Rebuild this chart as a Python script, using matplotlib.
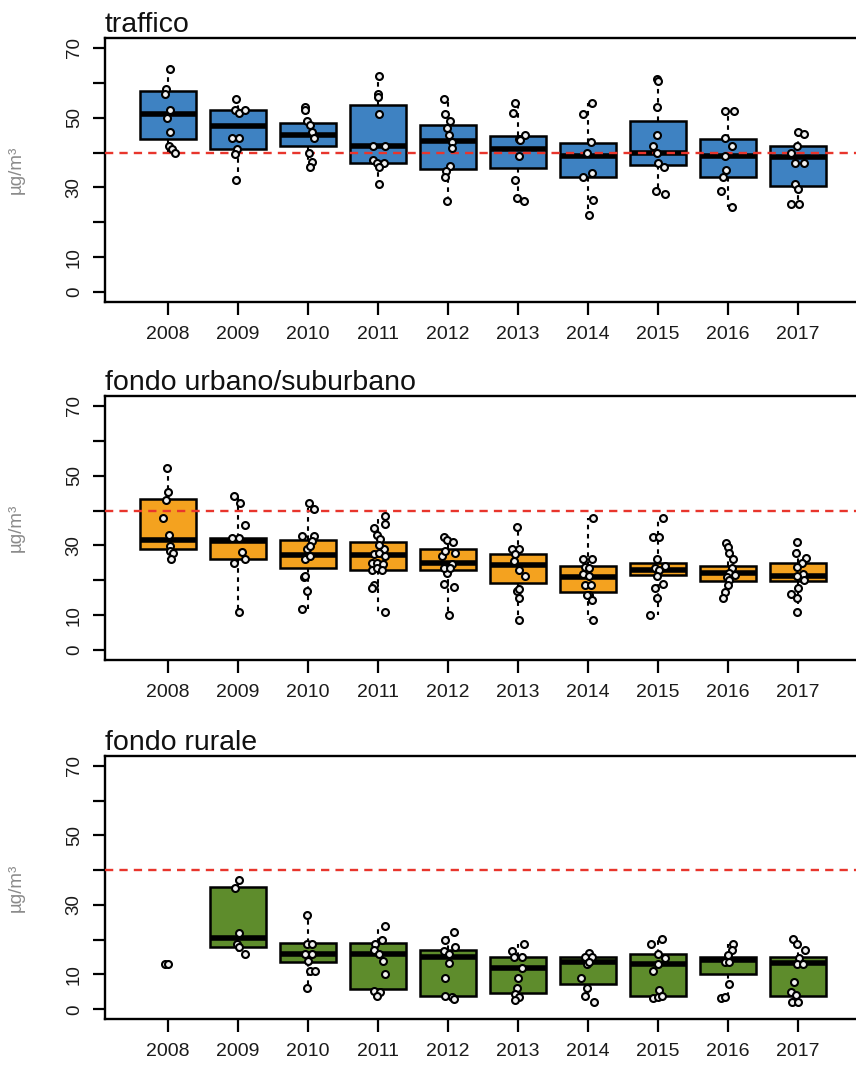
import matplotlib
matplotlib.use("Agg")
import matplotlib.pyplot as plt

plt.rcParams["font.family"] = ["Liberation Sans", "DejaVu Sans"]

YEARS = [2008, 2009, 2010, 2011, 2012, 2013, 2014, 2015, 2016, 2017]
LIMIT = 40  # annual limit value, µg/m³

# ---- traffico ----
TRAFFICO_Q1 = [43.9, 40.9, 41.9, 36.9, 35.4, 35.6, 32.9, 36.4, 32.9, 30.5]
TRAFFICO_MED = [51.1, 47.6, 45.1, 42.0, 43.2, 40.9, 39.1, 40.0, 39.1, 38.8]
TRAFFICO_Q3 = [57.7, 52.1, 48.5, 53.6, 48.0, 44.7, 42.6, 49.1, 44.0, 41.9]
TRAFFICO_VALUES = [
    [63.9, 58.1, 56.9, 52.1, 50.0, 45.8, 41.9, 41.0, 39.8],
    [55.2, 52.1, 51.4, 52.1, 44.1, 44.1, 41.0, 39.7, 32.1],
    [53.1, 52.3, 49.1, 47.9, 45.9, 44.3, 40.0, 37.2, 35.9],
    [61.9, 56.9, 56.0, 50.9, 42.0, 42.0, 38.0, 36.9, 36.9, 35.9, 31.1],
    [55.2, 51.0, 49.1, 46.9, 45.0, 43.1, 41.2, 36.2, 34.8, 33.0, 26.1],
    [54.2, 51.2, 44.0, 45.0, 43.7, 39.0, 32.1, 27.0, 26.1],
    [54.1, 51.0, 43.1, 39.9, 32.9, 34.0, 26.4, 22.1],
    [61.2, 60.6, 52.9, 45.0, 41.8, 39.9, 36.9, 35.9, 29.0, 28.1],
    [51.9, 51.9, 44.2, 41.9, 39.0, 35.0, 32.9, 29.0, 24.3],
    [45.9, 45.2, 41.9, 39.9, 36.9, 36.9, 31.1, 29.7, 25.2, 25.2],
]
TRAFFICO_JITTER = [
    [0.03, -0.03, -0.04, 0.03, -0.01, 0.03, 0.02, 0.05, 0.10],
    [-0.03, -0.05, 0.02, 0.10, -0.09, 0.02, -0.01, -0.05, -0.03],
    [-0.05, -0.04, -0.02, 0.03, 0.05, 0.08, 0.01, 0.06, 0.03],
    [0.02, 0.00, 0.00, 0.02, -0.07, 0.10, -0.07, -0.02, 0.08, 0.02, 0.02],
    [-0.06, -0.05, 0.03, -0.01, 0.02, 0.06, 0.05, 0.03, -0.03, -0.05, -0.01],
    [-0.04, -0.07, 0.01, 0.10, 0.03, 0.02, -0.04, -0.01, 0.08],
    [0.05, -0.07, 0.04, -0.02, -0.07, 0.05, 0.07, 0.02],
    [-0.02, 0.00, -0.02, -0.02, -0.07, -0.02, 0.00, 0.09, -0.03, 0.10],
    [-0.05, 0.09, -0.05, 0.05, -0.05, -0.03, -0.07, -0.10, 0.05],
    [0.00, 0.09, -0.01, -0.10, -0.05, 0.09, -0.05, 0.00, -0.10, 0.02],
]

# ---- fondo urbano/suburbano ----
URBANO_Q1 = [28.9, 26.0, 23.5, 22.9, 23.1, 19.3, 16.7, 21.4, 19.8, 19.8]
URBANO_MED = [31.5, 31.3, 27.2, 27.2, 25.1, 24.3, 20.9, 23.1, 22.0, 21.2]
URBANO_Q3 = [43.2, 32.2, 31.7, 31.1, 29.1, 27.5, 24.1, 25.1, 24.1, 25.1]
URBANO_VALUES = [
    [52.1, 45.4, 43.1, 38.0, 32.9, 29.9, 28.4, 27.9, 26.0],
    [44.3, 42.1, 36.0, 32.2, 32.0, 28.1, 26.2, 25.1, 10.9],
    [42.3, 40.4, 32.7, 32.7, 31.3, 29.1, 29.9, 26.0, 27.0, 20.9, 16.9, 11.9, 21.2],
    [38.3, 36.1, 35.0, 32.9, 31.8, 29.1, 30.2, 27.5, 27.8, 27.0, 25.1, 25.1,
     24.8, 23.1, 23.6, 23.1, 18.8, 17.9, 10.9],
    [32.3, 31.5, 31.1, 27.9, 27.0, 28.4, 24.6, 22.2, 23.6, 23.6, 19.0, 18.1, 10.2],
    [35.3, 29.1, 29.1, 27.5, 25.5, 23.1, 21.2, 16.9, 15.0, 17.4, 8.7],
    [38.0, 26.0, 26.0, 23.8, 23.6, 21.7, 21.2, 18.8, 18.8, 15.9, 15.9, 14.5, 8.7],
    [38.0, 32.3, 32.3, 26.0, 24.1, 23.6, 23.1, 21.2, 19.0, 17.9, 15.0, 10.0],
    [30.8, 29.6, 27.7, 26.2, 23.6, 22.2, 21.4, 20.9, 20.0, 18.8, 16.7, 15.0],
    [31.1, 27.9, 26.3, 25.1, 23.8, 21.7, 21.2, 20.0, 17.9, 16.1, 15.0, 10.9],
]
URBANO_JITTER = [
    [-0.02, 0.00, -0.03, -0.07, 0.02, 0.03, 0.03, 0.07, 0.04],
    [-0.06, 0.03, 0.10, -0.09, 0.02, 0.06, 0.10, -0.06, 0.01],
    [0.02, 0.08, -0.09, 0.08, 0.05, -0.01, 0.03, -0.04, 0.03, -0.06, -0.01, -0.09, -0.04],
    [0.10, 0.10, -0.06, -0.02, 0.03, 0.08, 0.01, -0.06, 0.02, 0.10, -0.09, -0.01,
     0.07, -0.09, -0.02, 0.06, -0.06, -0.09, 0.10],
    [-0.06, -0.01, 0.07, 0.10, -0.09, -0.04, 0.06, -0.01, -0.06, 0.03, -0.06, 0.09, 0.02],
    [-0.01, -0.09, 0.01, -0.04, -0.06, 0.01, 0.10, -0.01, 0.01, 0.01, 0.01],
    [0.07, -0.07, 0.05, -0.05, 0.02, -0.07, 0.02, -0.05, 0.04, 0.02, -0.02, 0.05, 0.07],
    [0.07, -0.07, 0.02, -0.02, 0.10, -0.05, 0.02, -0.02, 0.07, -0.05, -0.02, -0.12],
    [-0.03, 0.00, 0.01, 0.07, 0.05, 0.02, 0.10, -0.02, 0.02, 0.00, -0.05, -0.07],
    [-0.02, -0.03, 0.11, 0.06, -0.02, 0.07, -0.02, 0.08, 0.00, -0.10, -0.02, -0.01],
]

# ---- fondo rurale (2008: single station, no box) ----
RURALE_Q1 = [None, 17.8, 13.7, 5.7, 3.8, 4.8, 7.4, 3.8, 10.0, 3.8]
RURALE_MED = [None, 20.6, 15.9, 16.0, 15.1, 12.0, 13.7, 12.9, 14.1, 13.2]
RURALE_Q3 = [None, 35.1, 19.1, 19.1, 17.0, 15.1, 15.1, 16.0, 15.1, 15.1]
RURALE_VALUES = [
    [12.9, 12.9],
    [37.1, 34.9, 22.0, 18.9, 17.8, 15.9],
    [27.0, 18.9, 18.9, 15.9, 15.9, 13.8, 11.0, 11.0, 6.0],
    [24.0, 19.9, 18.9, 17.0, 15.8, 13.8, 10.0, 5.3, 5.1, 3.9],
    [22.3, 19.9, 18.0, 16.7, 15.8, 13.2, 8.9, 3.8, 3.6, 2.9],
    [18.9, 16.7, 15.1, 15.1, 11.9, 8.9, 6.0, 4.4, 3.6, 2.7],
    [16.3, 15.1, 15.1, 12.9, 13.7, 8.9, 6.0, 3.9, 2.0],
    [20.2, 18.9, 16.0, 14.8, 12.9, 11.0, 5.5, 3.2, 3.6, 3.8],
    [18.9, 17.0, 15.6, 13.7, 13.5, 7.4, 3.2, 3.6],
    [20.2, 18.9, 17.0, 14.8, 12.9, 12.9, 7.9, 5.1, 4.1, 2.0, 2.0],
]
RURALE_JITTER = [
    [-0.05, 0.00],
    [0.01, -0.05, 0.01, -0.01, 0.02, 0.10],
    [-0.02, -0.02, 0.06, -0.04, 0.06, 0.00, 0.03, 0.10, -0.02],
    [0.10, 0.05, -0.04, -0.06, 0.02, 0.07, 0.10, -0.06, 0.03, -0.02],
    [0.08, -0.04, 0.10, -0.06, 0.02, 0.01, -0.05, -0.04, 0.06, 0.08],
    [0.08, -0.09, 0.06, -0.06, 0.06, 0.00, -0.01, -0.05, 0.01, -0.04],
    [0.02, -0.05, 0.05, -0.02, 0.02, -0.10, -0.02, -0.05, 0.08],
    [0.05, -0.10, 0.00, 0.10, 0.00, -0.07, 0.02, -0.07, 0.00, 0.06],
    [0.07, 0.05, 0.00, -0.05, 0.02, 0.02, -0.10, -0.05],
    [-0.07, -0.02, 0.10, 0.02, -0.02, 0.07, -0.06, -0.10, -0.03, -0.08, 0.00],
]

PANELS = [
    ("traffico", "#3E82C2", TRAFFICO_Q1, TRAFFICO_MED, TRAFFICO_Q3,
     TRAFFICO_VALUES, TRAFFICO_JITTER),
    ("fondo urbano/suburbano", "#F4A21F", URBANO_Q1, URBANO_MED, URBANO_Q3,
     URBANO_VALUES, URBANO_JITTER),
    ("fondo rurale", "#5E8C2C", RURALE_Q1, RURALE_MED, RURALE_Q3,
     RURALE_VALUES, RURALE_JITTER),
]

W, H = 856, 1071
fig = plt.figure(figsize=(W / 100, H / 100), dpi=100)
fig.patch.set_facecolor("white")

# panel frames in pixels: (top, bottom)
FRAMES = [(38, 302), (396, 660), (756, 1019)]
LEFT_PX = 105
WIDTH_PX = 756

positions = list(range(1, len(YEARS) + 1))

for (title, color, q1s, meds, q3s, values, jitter), (top, bot) in zip(PANELS, FRAMES):
    ax = fig.add_axes([LEFT_PX / W, 1 - bot / H, WIDTH_PX / W, (bot - top) / H])

    stats, pos = [], []
    for i, (q1, med, q3, vals) in enumerate(zip(q1s, meds, q3s, values)):
        if q1 is None:
            continue
        stats.append(dict(q1=q1, med=med, q3=q3,
                          whislo=min(vals), whishi=max(vals), fliers=[]))
        pos.append(positions[i])

    ax.bxp(stats, positions=pos, widths=0.8, patch_artist=True,
           showcaps=False, showfliers=False,
           boxprops=dict(facecolor=color, edgecolor="black", linewidth=1.8),
           medianprops=dict(color="black", linewidth=4.0, solid_capstyle="butt"),
           whiskerprops=dict(color="black", linewidth=1.5, linestyle=(0, (2.2, 2.2))),
           zorder=2)

    ax.axhline(LIMIT, color="#E8352C", linewidth=1.7,
               linestyle=(0, (3.5, 2.6)), zorder=3)

    for i, (vals, jit) in enumerate(zip(values, jitter)):
        xs = [positions[i] + j for j in jit]
        ax.plot(xs, vals, linestyle="none", marker="o", markersize=5.0,
                markerfacecolor="#F2F2F2", markeredgecolor="black",
                markeredgewidth=1.5, zorder=4)

    ax.set_xlim(0.1, 10.9)
    ax.set_ylim(-2.8, 72.8)

    ax.set_xticks(positions)
    ax.set_xticklabels([str(y) for y in YEARS], fontsize=14, color="#1A1A1A")
    yt = list(range(0, 71, 10))
    ax.set_yticks(yt)
    ax.set_yticklabels([str(v) if v in (0, 10, 30, 50, 70) else "" for v in yt],
                       fontsize=13.5, rotation=90, va="center", color="#1A1A1A")
    ax.tick_params(axis="x", length=9, width=1.6, pad=8, direction="out")
    ax.tick_params(axis="y", length=9, width=1.6, pad=7, direction="out")

    for sp in ax.spines.values():
        sp.set_linewidth(1.7)

    ax.set_ylabel("µg/m³", fontsize=13.5, color="#8A8A8A")
    ax.yaxis.set_label_coords(-(LEFT_PX - 25) / WIDTH_PX, 0.5)
    ax.set_title(title, loc="left", fontsize=20.5, pad=3, color="#111111")

fig.savefig("out.png", dpi=100, facecolor="white")
